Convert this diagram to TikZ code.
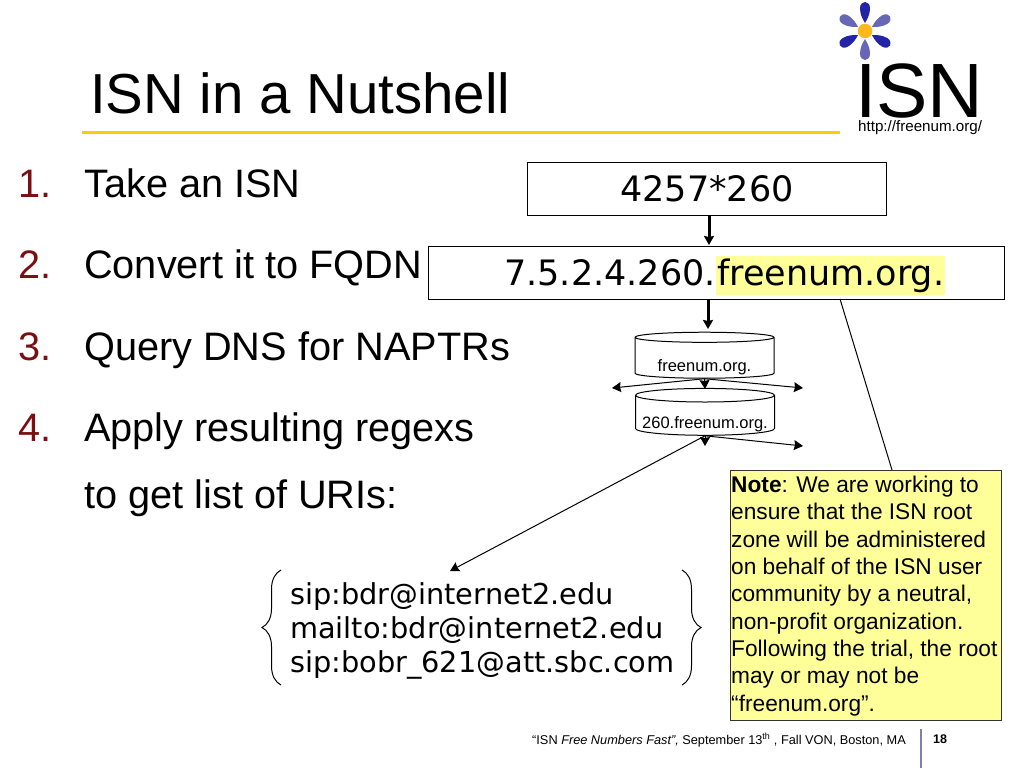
\documentclass[tikz,border=0pt]{standalone}
\usepackage{fontspec}
\setmainfont{Liberation Sans}
\newfontfamily\verdfont{DejaVu Sans}
\usetikzlibrary{arrows.meta, shapes.geometric, decorations.pathreplacing}
\definecolor{notefill}{HTML}{FFFF99}
\definecolor{rulegold}{HTML}{FFCC00}
\definecolor{numred}{HTML}{7A0F12}
\definecolor{petaldark}{HTML}{2323A8}
\definecolor{petallight}{HTML}{6767B5}
\definecolor{footline}{HTML}{8080B0}
\definecolor{flowermid}{HTML}{FFB81C}
\newcommand{\fs}[1]{\fontsize{#1}{#1}\selectfont}
\tikzset{
  txt/.style={anchor=base west, inner sep=0pt},
  num/.style={txt, text=numred, font=\fs{39.7}},
  item/.style={txt, font=\fs{39.7}},
  box/.style={rectangle, draw, line width=1pt, inner sep=0pt},
  db/.style={cylinder, shape border rotate=90, draw, line width=1pt, shape aspect=0.108, inner sep=0pt, minimum width=139pt, minimum height=46pt, text height=26pt, text depth=0pt, font=\fs{16.5}},
  uri/.style={txt, font=\verdfont\fs{28.8}},
  notetxt/.style={txt, font=\fs{22.7}},
  thinarr/.style={-{Stealth[length=9pt,width=10pt,inset=1pt]}, line width=1pt},
  fatarr/.style={-{Stealth[length=9pt,width=10pt,inset=1pt]}, line width=3pt}
}
\begin{document}
\begin{tikzpicture}[x=1pt, y=-1pt]
      \useasboundingbox (0,0) rectangle (1024,768);
      % title
      \node (title)[txt, font=\fs{56.4}] at (90, 113) {ISN in a Nutshell};
      \draw[rulegold, line width=3pt] (82, 132) -- (840, 132);
      % logo
      \foreach \ang/\col in {90/petaldark, 30/petallight, -30/petaldark, -90/petallight, -150/petaldark, 150/petallight} {
        \fill[\col, shift={(865, 31)}, rotate=\ang] (8,0) .. controls (13,-3) and (17,-5) .. (23,-5) .. controls (27,-5) and (29,-2) .. (29,0) .. controls (29,2) and (27,5) .. (23,5) .. controls (17,5) and (13,3) .. (8,0) -- cycle;
      }
      \fill[flowermid] (865, 31) circle (7.3);
      \node (isn)[txt, font=\fs{77}] at (855, 117) {ISN};
      \node (url)[txt, font=\fs{15.15}] at (858, 131) {http://freenum.org/};
      % steps
      \node (n1)[num] at (18, 197) {1.};
      \node (n2)[num] at (18, 278) {2.};
      \node (n3)[num] at (18, 360) {3.};
      \node (n4)[num] at (18, 441) {4.};
      \node (s1)[item] at (84, 197) {Take an ISN};
      \node (s2)[item] at (84, 278) {Convert it to FQDN};
      \node (s3)[item] at (84, 360) {Query DNS for NAPTRs};
      \node (s4)[item] at (84, 441) {Apply resulting regexs};
      \node (s5)[item] at (84, 508) {to get list of URIs:};
      % boxes
      \node (isnbox)[box, minimum width=359pt, minimum height=53pt, font=\verdfont\fs{35}] at (707, 189) {4257*260};
      \node (fqdn)[box, minimum width=576pt, minimum height=53pt] at (716, 272.5) {};
      \node (host)[anchor=base east, inner sep=0pt, font=\verdfont\fs{35}] at (716, 285) {7.5.2.4.260.};
      \node (zone)[anchor=base west, fill=notefill, inner sep=0pt, minimum width=229pt, text height=29pt, text depth=10pt, font=\verdfont\fs{35}] at (716, 285) {freenum.org.};
      % dns
      \node (db1)[db] at (704.5, 358) {freenum.org.};
      \node (db2)[db] at (705, 415.5) {260.freenum.org.};
      \coordinate (a1) at (709, 245);
      \coordinate (a2) at (708, 329);
      \coordinate (c1l) at (612, 388);
      \coordinate (c1r) at (803, 388);
      \coordinate (c1d) at (705, 389);
      \coordinate (c2r) at (803, 446);
      \coordinate (c2d) at (705, 446);
      \coordinate (c2u) at (450, 571);
      \draw[fatarr] (isnbox.south -| a1) -- (a1);
      \draw[fatarr] (fqdn.south -| a2) -- (a2);
      \draw[thinarr] (db1.south) -- (c1l);
      \draw[thinarr] (db1.south) -- (c1r);
      \draw[thinarr] (db1.south) -- (c1d);
      \draw[thinarr] (db2.south) -- (c2r);
      \draw[thinarr] (db2.south) -- (c2d);
      \draw[thinarr] (db2.south) -- (c2u);
      % note
      \node (note)[box, draw=black!80, fill=notefill, minimum width=271pt, minimum height=250pt] at (865.5, 595) {};
      \coordinate (n0) at (840, 299);
      \coordinate (n9) at (892, 470);
      \draw[line width=1pt] (n0) -- (n9);
      \node (l1)[notetxt] at (731, 492) {\textbf{Note}: We are working to};
      \node (l2)[notetxt] at (731, 519.5) {ensure that the ISN root};
      \node (l3)[notetxt] at (731, 547) {zone will be administered};
      \node (l4)[notetxt] at (731, 574) {on behalf of the ISN user};
      \node (l5)[notetxt] at (731, 601.5) {community by a neutral,};
      \node (l6)[notetxt] at (731, 629) {non-profit organization.};
      \node (l7)[notetxt] at (731, 656) {Following the trial, the root};
      \node (l8)[notetxt] at (731, 683.5) {may or may not be};
      \node (l9)[notetxt] at (731, 711) {“freenum.org”.};
      % uris
      \node (u1)[uri] at (290, 604) {sip:bdr@internet2.edu};
      \node (u2)[uri] at (290, 638) {mailto:bdr@internet2.edu};
      \node (u3)[uri] at (290, 672) {sip:bobr\_621@att.sbc.com};
      \coordinate (bl1) at (281, 685);
      \coordinate (bl2) at (281, 570);
      \coordinate (br1) at (682, 570);
      \coordinate (br2) at (682, 685);
      \draw[decorate, decoration={brace, amplitude=19pt}, line width=1pt] (bl1) -- (bl2);
      \draw[decorate, decoration={brace, amplitude=19pt}, line width=1pt] (br1) -- (br2);
      % footer
      \node (foot)[txt, font=\fs{12.75}] at (532, 744) {“ISN \textit{Free Numbers Fast”,} September 13\textsuperscript{th} , Fall VON, Boston, MA};
      \node (page)[txt, font=\bfseries\fs{12.5}] at (933, 743) {18};
      \draw[footline, line width=1.2pt] (921, 729) -- (921, 768);
    \end{tikzpicture}
\end{document}
